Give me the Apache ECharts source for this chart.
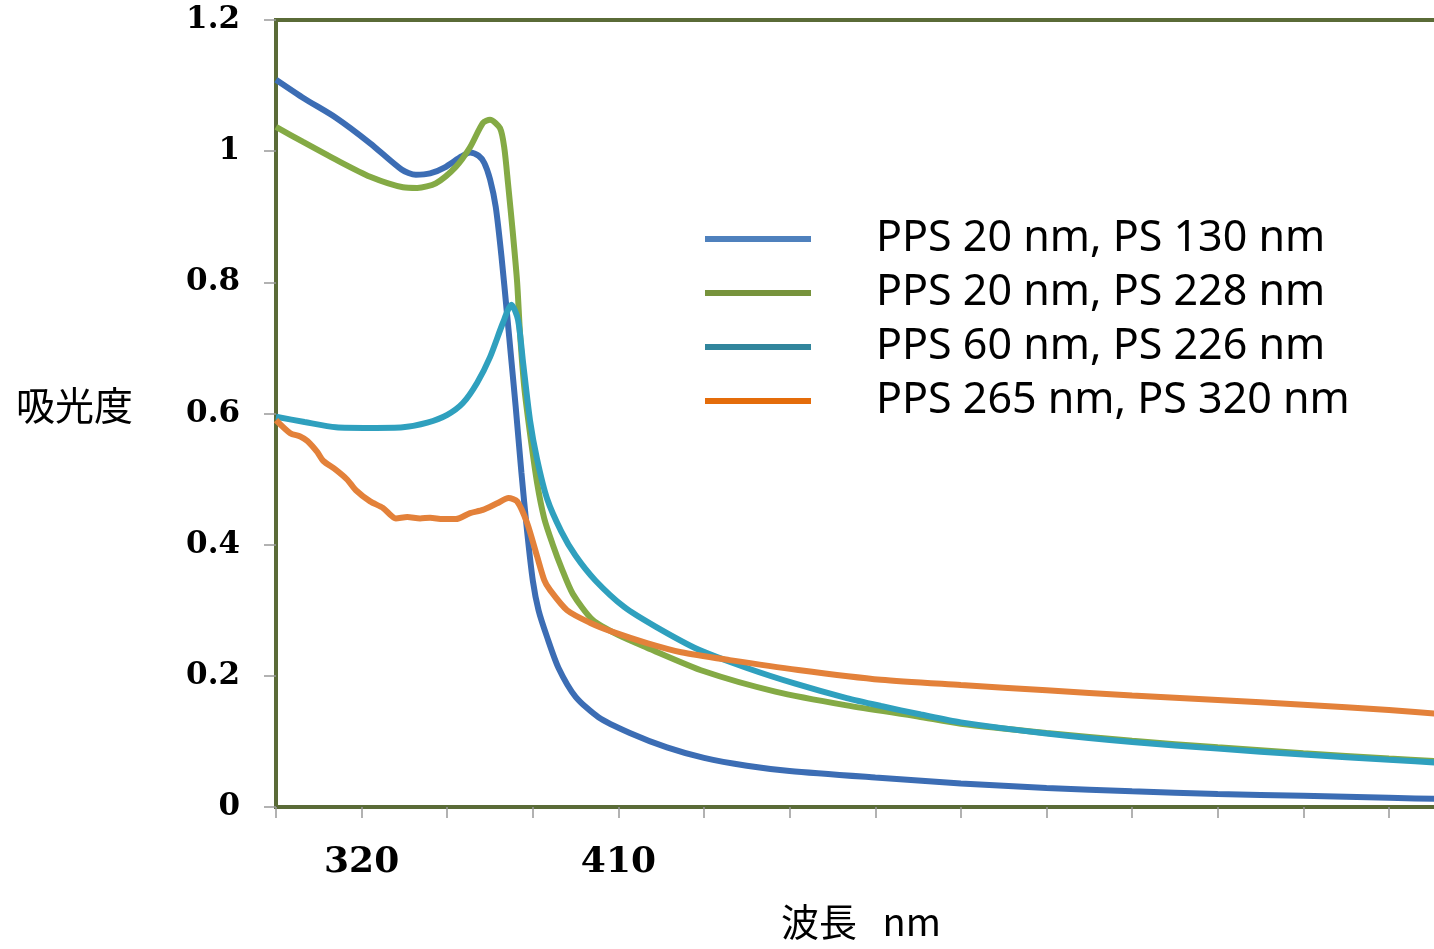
<!DOCTYPE html>
<html>
<head>
<meta charset="utf-8">
<title>吸光度</title>
<script src="https://cdn.jsdelivr.net/npm/echarts@6/dist/echarts.min.js"></script>
<style>
html, body { margin: 0; padding: 0; background: #fff; }
#main { width: 1434px; height: 949px; }
</style>
</head>
<body>
<div id="main"></div>
<script>
// series names (legend order)
const seriesNames = ['PPS 20 nm, PS 130 nm', 'PPS 20 nm, PS 228 nm', 'PPS 60 nm, PS 226 nm', 'PPS 265 nm, PS 320 nm'];

// x axis: ticks every 30 nm, only two labels are printed
const xTickValues = [290, 320, 350, 380, 410, 440, 470, 500, 530, 560, 590, 620, 650, 680];
const xLabelValues = [320, 410];

// PPS 20 nm, PS 130 nm
const blueNm = [290, 300, 311, 323, 334, 339, 344, 349, 355, 358, 361, 363, 365, 367, 369, 371, 372.5, 374, 376, 378, 380, 382, 385, 389, 395, 403, 414, 427, 440, 455, 470, 500, 530, 560, 590, 620, 650, 680, 700];
const blueAbs = [1.109, 1.080, 1.051, 1.012, 0.972, 0.964, 0.966, 0.975, 0.992, 0.998, 0.993, 0.982, 0.957, 0.915, 0.84, 0.75, 0.68, 0.61, 0.51, 0.42, 0.345, 0.30, 0.259, 0.212, 0.168, 0.137, 0.113, 0.091, 0.075, 0.063, 0.055, 0.045, 0.036, 0.029, 0.024, 0.020, 0.017, 0.014, 0.012];

// PPS 20 nm, PS 228 nm
const greenNm = [290, 299.5, 311, 323, 334.5, 339.5, 346, 353, 358, 362.5, 365, 368.5, 370, 371.3, 373, 374.5, 375.5, 377, 379, 381.5, 384, 387, 390, 394, 401, 410, 420, 440, 465, 490, 515, 530, 560, 590, 620, 650, 680, 700];
const greenAbs = [1.037, 1.014, 0.987, 0.961, 0.945, 0.944, 0.951, 0.976, 1.006, 1.043, 1.048, 1.035, 1.005, 0.951, 0.875, 0.80, 0.723, 0.64, 0.57, 0.494, 0.44, 0.40, 0.365, 0.325, 0.285, 0.262, 0.243, 0.207, 0.176, 0.155, 0.138, 0.127, 0.113, 0.101, 0.091, 0.082, 0.074, 0.069];

// PPS 60 nm, PS 226 nm
const tealNm = [290, 300, 311, 323, 334.5, 343, 350, 355.5, 360.5, 365, 369.5, 372.5, 374.8, 376.6, 379, 381.5, 385, 390, 395, 402, 412, 423, 438, 455, 472, 490, 502, 516, 530, 560, 590, 620, 650, 680, 700];
const tealAbs = [0.595, 0.587, 0.579, 0.578, 0.579, 0.586, 0.598, 0.616, 0.647, 0.686, 0.738, 0.766, 0.743, 0.677, 0.59, 0.53, 0.47, 0.42, 0.383, 0.345, 0.305, 0.275, 0.24, 0.212, 0.188, 0.166, 0.154, 0.141, 0.129, 0.112, 0.099, 0.089, 0.080, 0.072, 0.067];

// PPS 265 nm, PS 320 nm
const orangeNm = [290, 295, 298.5, 301, 304.5, 306.5, 311, 315, 318, 323, 327.5, 332, 336, 340.5, 344, 348.5, 353, 358, 362.5, 367.5, 371.5, 374.5, 378, 381.5, 384, 386, 392, 400, 408, 420, 432, 449, 473, 502, 530, 560, 590, 620, 650, 680, 700];
const orangeAbs = [0.590, 0.570, 0.565, 0.558, 0.541, 0.528, 0.514, 0.499, 0.483, 0.466, 0.456, 0.440, 0.442, 0.440, 0.441, 0.439, 0.439, 0.448, 0.453, 0.463, 0.471, 0.466, 0.433, 0.382, 0.346, 0.331, 0.300, 0.281, 0.267, 0.250, 0.236, 0.224, 0.209, 0.194, 0.186, 0.178, 0.170, 0.163, 0.156, 0.148, 0.141];

const lineColors = ['#3c6db4', '#84aa45', '#2fa0be', '#e3813a'];
const legendColors = ['#4f81bd', '#77933c', '#31859c', '#e46c0a'];

function pairs(xs, ys) {
  return xs.map((x, i) => [x, ys[i]]);
}

const chart = echarts.init(document.getElementById('main'));

const seriesData = [
  pairs(blueNm, blueAbs),
  pairs(greenNm, greenAbs),
  pairs(tealNm, tealAbs),
  pairs(orangeNm, orangeAbs)
];

chart.setOption({
  animation: false,
  backgroundColor: '#fff',
  grid: {
    left: 276, top: 20, right: -12, bottom: 142,
    outerBoundsMode: 'none',
    show: true, borderColor: '#5a6b37', borderWidth: 4
  },
  legend: {
    orient: 'vertical',
    left: 700,
    top: 207,
    itemWidth: 106,
    itemHeight: 6,
    itemGap: 0,
    icon: 'rect',
    selectedMode: false,
    textStyle: {
      fontFamily: 'Noto Sans', fontSize: 43, color: '#000',
      lineHeight: 54, padding: [0, 0, 0, 60]
    },
    data: seriesNames.map((n, i) => ({ name: n, itemStyle: { color: legendColors[i] } }))
  },
  xAxis: {
    type: 'value',
    min: 290,
    max: 700,
    name: '波長   nm',
    nameLocation: 'middle',
    nameGap: 96,
    nameTextStyle: { fontFamily: 'Noto Sans CJK JP', fontSize: 38, color: '#000' },
    axisLine: { show: false },
    axisTick: { show: true, length: 11, customValues: xTickValues, lineStyle: { color: '#999', width: 1.5 } },
    axisLabel: {
      customValues: xLabelValues, margin: 38,
      fontFamily: 'DejaVu Serif', fontWeight: 'bold', fontSize: 36, color: '#000'
    },
    splitLine: { show: false }
  },
  yAxis: {
    type: 'value',
    min: 0,
    max: 1.2,
    interval: 0.2,
    name: '吸光度',
    nameLocation: 'middle',
    nameRotate: 0,
    nameGap: 143,
    nameTextStyle: {
      fontFamily: 'Noto Sans CJK JP', fontSize: 39, color: '#000',
      verticalAlign: 'bottom', lineHeight: 16
    },
    axisLine: { show: false },
    axisTick: { show: true, length: 12, lineStyle: { color: '#999', width: 1.5 } },
    axisLabel: { margin: 36, fontFamily: 'DejaVu Serif', fontWeight: 'bold', fontSize: 31, color: '#000' },
    splitLine: { show: false }
  },
  series: seriesNames.map((n, i) => ({
    name: n,
    type: 'line',
    data: seriesData[i],
    showSymbol: false,
    symbol: 'none',
    smooth: 0.25,
    lineStyle: { width: 6, color: lineColors[i] },
    itemStyle: { color: lineColors[i] }
  }))
});
</script>
</body>
</html>
